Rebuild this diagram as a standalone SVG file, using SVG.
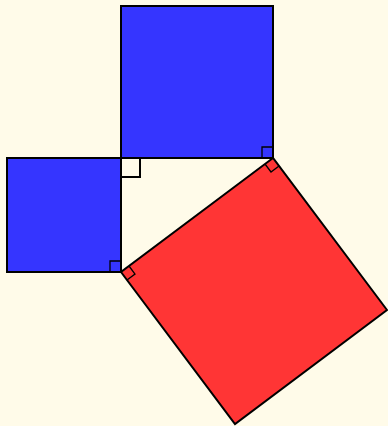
<svg xmlns="http://www.w3.org/2000/svg" width="388" height="426" viewBox="0 0 388 426">
<style>
.sq{stroke:#000;stroke-width:2;stroke-linejoin:miter}
.blue{fill:#3535ff}
.red{fill:#ff3535}
.mk{fill:none;stroke:#000;stroke-width:1.3}
</style>
<rect width="388" height="426" fill="#fffbe9"/>
<g id="square-top"><rect class="sq blue" x="121" y="6" width="152" height="152"/><path class="mk" d="M262,158 V147 H273"/></g>
<g id="square-left"><rect class="sq blue" x="7" y="158" width="114" height="114"/><path class="mk" d="M110,272 V261 H121"/></g>
<g id="square-hyp"><polygon class="sq red" points="273,158 121,272 235,424 387,310"/>
<path class="mk" d="M265,164 L271,172 L279,166"/>
<path class="mk" d="M129,266 L135,274 L127,280"/></g>
<g id="right-angle"><rect x="121" y="158" width="19" height="19" fill="#fffbe9" stroke="#000" stroke-width="2"/></g>
</svg>
